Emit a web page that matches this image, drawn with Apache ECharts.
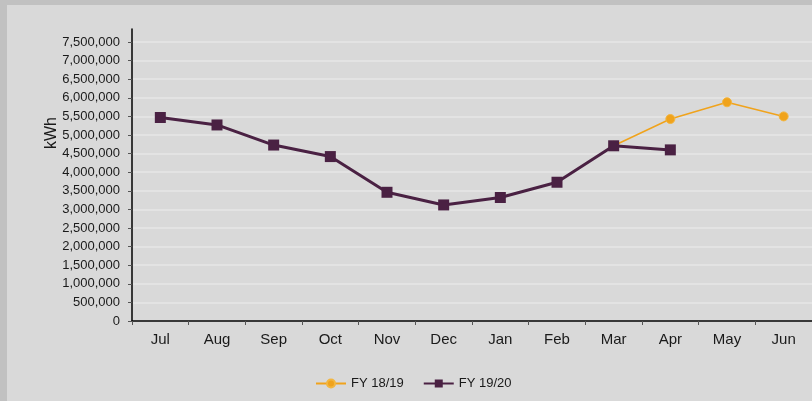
<!DOCTYPE html>
<html>
<head>
<meta charset="utf-8">
<script src="https://cdn.jsdelivr.net/npm/echarts@6/dist/echarts.min.js"></script>
<style>
  html, body { margin: 0; padding: 0; background: #c1c1c1; width: 812px; height: 401px; overflow: hidden; }
  #chart { position: absolute; left: 7px; top: 5px; width: 805px; height: 396px; background: #d9d9d9; }
</style>
</head>
<body>
<div id="chart"></div>
<script>
// Monthly energy use, financial year July–June
const months = ['Jul', 'Aug', 'Sep', 'Oct', 'Nov', 'Dec', 'Jan', 'Feb', 'Mar', 'Apr', 'May', 'Jun'];
const fy1819 = [null, null, null, null, null, null, null, null, 4710000, 5430000, 5880000, 5500000];
const fy1920 = [5470000, 5270000, 4730000, 4420000, 3460000, 3120000, 3320000, 3730000, 4710000, 4600000, null, null];

const fmt = v => v.toLocaleString('en-US');
const font = 'Liberation Sans, Arial, Helvetica, sans-serif';

const chart = echarts.init(document.getElementById('chart'), null, { renderer: 'canvas' });
chart.setOption({
  backgroundColor: '#d9d9d9',
  animation: false,
  textStyle: { fontFamily: font },
  grid: [
    { left: 125, right: -4, top: 37, bottom: 80 },
    { left: 125, right: -4, top: 24, bottom: 80 }
  ],
  xAxis: [
    {
      type: 'category', data: months, gridIndex: 0, boundaryGap: true,
      axisLine: { lineStyle: { color: '#000', width: 1.5 } },
      axisTick: { show: true, length: 4, lineStyle: { color: '#555' } },
      axisLabel: { color: '#1a1a1a', fontSize: 15, margin: 11, fontFamily: font }
    },
    { type: 'category', data: months, gridIndex: 1, show: false }
  ],
  yAxis: [
    {
      type: 'value', gridIndex: 0, min: 0, max: 7500000, interval: 500000,
      axisLine: { show: false },
      axisTick: { show: true, length: 4, lineStyle: { color: '#555' } },
      axisLabel: { color: '#1a1a1a', fontSize: 13, margin: 12, fontFamily: font, formatter: v => fmt(v) },
      splitLine: { show: true, lineStyle: { color: '#e6e6e6', width: 1.5 } }
    },
    {
      type: 'value', gridIndex: 1, min: 0, max: 1,
      axisLine: { show: true, lineStyle: { color: '#000', width: 1.5 } },
      axisTick: { show: false }, axisLabel: { show: false }, splitLine: { show: false }
    }
  ],
  legend: {
    bottom: 6, left: 303,
    itemWidth: 30, itemHeight: 10, itemGap: 19,
    textStyle: { color: '#1a1a1a', fontSize: 13, fontFamily: font },
    data: ['FY 18/19', 'FY 19/20']
  },
  graphic: [
    {
      type: 'text', x: 45, y: 128, rotation: Math.PI / 2,
      style: { text: 'kWh', fontSize: 16, fontFamily: font, fill: '#1a1a1a', align: 'center', verticalAlign: 'middle' }
    }
  ],
  series: [
    {
      name: 'FY 18/19', type: 'line', data: fy1819, xAxisIndex: 0, yAxisIndex: 0,
      symbol: 'circle', symbolSize: 9,
      lineStyle: { color: '#f0a31c', width: 1.5 },
      itemStyle: { color: '#f0a31c', borderColor: '#f3b640', borderWidth: 1 },
      z: 2
    },
    {
      name: 'FY 19/20', type: 'line', data: fy1920, xAxisIndex: 0, yAxisIndex: 0,
      symbol: 'rect', symbolSize: 11,
      lineStyle: { color: '#4a2143', width: 3 },
      itemStyle: { color: '#4a2143' },
      z: 3
    }
  ]
});
</script>
</body>
</html>
